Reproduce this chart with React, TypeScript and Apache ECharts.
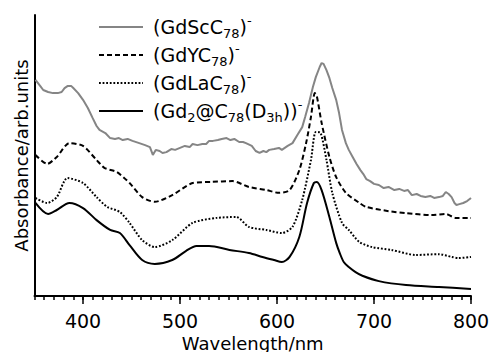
import { useEffect, useRef } from "react";
import * as echarts from "echarts";

const FONT = "'DejaVu Sans', 'Noto Sans', sans-serif";

// x-axis labelled ticks (nm)
const majorTicks = [400, 500, 600, 700, 800];

// (GdScC78)- spectrum
const gdScWl = [351, 356, 359, 364, 369, 374, 378, 381, 384, 388, 390, 395, 400, 405, 410, 414, 417, 423, 428, 433, 437, 441, 446, 451, 458, 464, 469, 472, 475, 479, 482, 486, 491, 495, 500, 505, 510, 513, 518, 523, 527, 530, 534, 539, 543, 548, 552, 556, 561, 565, 568, 574, 578, 582, 586, 589, 592, 597, 602, 605, 611, 616, 621, 626, 629, 633, 637, 640, 644, 646, 648, 651, 654, 657, 661, 664, 667, 671, 674, 678, 682, 686, 689, 692, 696, 700, 705, 710, 715, 721, 726, 731, 735, 739, 744, 748, 753, 758, 762, 767, 771, 774, 777, 780, 783, 785, 788, 792, 796, 800];
const gdScAbs = [0.769, 0.747, 0.733, 0.726, 0.722, 0.722, 0.726, 0.740, 0.747, 0.747, 0.740, 0.722, 0.698, 0.669, 0.633, 0.605, 0.591, 0.580, 0.562, 0.559, 0.562, 0.555, 0.559, 0.552, 0.544, 0.537, 0.530, 0.502, 0.520, 0.516, 0.509, 0.512, 0.523, 0.520, 0.527, 0.534, 0.530, 0.541, 0.537, 0.541, 0.541, 0.552, 0.552, 0.555, 0.559, 0.562, 0.555, 0.559, 0.548, 0.548, 0.544, 0.534, 0.516, 0.509, 0.516, 0.512, 0.520, 0.523, 0.527, 0.520, 0.534, 0.544, 0.573, 0.601, 0.637, 0.687, 0.744, 0.779, 0.815, 0.829, 0.826, 0.804, 0.776, 0.740, 0.698, 0.651, 0.591, 0.544, 0.520, 0.495, 0.470, 0.448, 0.434, 0.416, 0.409, 0.399, 0.395, 0.384, 0.388, 0.377, 0.381, 0.374, 0.377, 0.359, 0.363, 0.356, 0.352, 0.356, 0.349, 0.352, 0.356, 0.370, 0.363, 0.352, 0.331, 0.324, 0.327, 0.331, 0.338, 0.349];

// (GdYC78)- spectrum
const gdYWl = [351, 363, 373, 386, 400, 414, 422, 435, 448, 461, 474, 492, 513, 533, 554, 571, 589, 602, 613, 623, 630, 635, 639, 641, 646, 654, 661, 671, 685, 692, 715, 733, 759, 774, 784, 800];
const gdYAbs = [0.502, 0.470, 0.495, 0.544, 0.534, 0.484, 0.456, 0.441, 0.402, 0.352, 0.335, 0.359, 0.402, 0.406, 0.409, 0.388, 0.377, 0.367, 0.377, 0.448, 0.544, 0.637, 0.722, 0.712, 0.616, 0.495, 0.423, 0.367, 0.331, 0.317, 0.302, 0.295, 0.288, 0.292, 0.278, 0.278];

// (GdLaC78)- spectrum
const gdLaWl = [351, 363, 373, 384, 400, 414, 425, 438, 448, 461, 474, 492, 513, 538, 558, 571, 589, 605, 616, 626, 635, 640, 645, 651, 657, 667, 674, 685, 698, 718, 743, 767, 780, 787, 800];
const gdLaAbs = [0.349, 0.331, 0.352, 0.420, 0.402, 0.352, 0.317, 0.299, 0.260, 0.199, 0.174, 0.199, 0.260, 0.278, 0.281, 0.246, 0.235, 0.224, 0.246, 0.342, 0.484, 0.584, 0.580, 0.484, 0.367, 0.260, 0.235, 0.192, 0.174, 0.164, 0.146, 0.149, 0.139, 0.135, 0.139];

// (Gd2@C78(D3h))- spectrum
const gd2Wl = [351, 364, 373, 386, 400, 414, 428, 438, 448, 461, 474, 492, 506, 517, 530, 551, 571, 585, 597, 605, 613, 623, 631, 638, 641, 646, 654, 661, 665, 669, 674, 681, 688, 705, 733, 767, 800];
const gd2Abs = [0.331, 0.292, 0.306, 0.331, 0.313, 0.270, 0.235, 0.224, 0.181, 0.128, 0.114, 0.128, 0.160, 0.178, 0.178, 0.164, 0.153, 0.139, 0.128, 0.121, 0.139, 0.210, 0.331, 0.402, 0.406, 0.377, 0.281, 0.189, 0.150, 0.120, 0.103, 0.085, 0.072, 0.053, 0.039, 0.032, 0.025];

const seriesNames = ["(GdScC78)-", "(GdYC78)-", "(GdLaC78)-", "(Gd2@C78(D3h))-"];
const legendRich: Record<string, string> = {
  "(GdScC78)-": "(GdScC{sub|78}){sup|-}",
  "(GdYC78)-": "(GdYC{sub|78}){sup|-}",
  "(GdLaC78)-": "(GdLaC{sub|78}){sup|-}",
  "(Gd2@C78(D3h))-": "(Gd{sub|2}@C{sub|78}(D{sub|3h})){sup|-}",
};

const zip = (xs: number[], ys: number[]) => xs.map((x, i) => [x, ys[i]]);

export default function App() {
  const ref = useRef<HTMLDivElement>(null);

  useEffect(() => {
    if (!ref.current) return;
    const chart = echarts.init(ref.current, null, { renderer: "svg" });

    const lineSeries = (
      name: string,
      data: number[][],
      color: string,
      type: any,
      smooth: number
    ) => ({
      name,
      type: "line",
      xAxisIndex: 0,
      yAxisIndex: 0,
      data,
      symbol: "none",
      smooth,
      color,
      lineStyle: { color, width: 2, type },
    });

    chart.setOption({
      animation: false,
      backgroundColor: "#fff",
      grid: {
        left: 34.5,
        right: 21,
        top: 15,
        bottom: 56,
        containLabel: false,
        outerBoundsMode: "none",
      },
      legend: {
        orient: "vertical",
        left: 98,
        top: 14,
        padding: 0,
        itemGap: 2,
        itemWidth: 44,
        itemHeight: 14,
        data: seriesNames,
        itemStyle: { opacity: 0 },
        formatter: (n: string) => legendRich[n] ?? n,
        textStyle: {
          fontFamily: FONT,
          fontSize: 19,
          color: "#000",
          lineHeight: 26,
          padding: [0, 0, 0, 5],
          rich: {
            sub: { fontFamily: FONT, fontSize: 13, lineHeight: 13, color: "#000", verticalAlign: "bottom" },
            sup: { fontFamily: FONT, fontSize: 13, lineHeight: 13, color: "#000", verticalAlign: "top" },
          },
        },
      },
      xAxis: [
        {
          type: "value",
          min: 350,
          max: 800,
          interval: 10,
          axisLine: { show: true, onZero: false, lineStyle: { color: "#000", width: 2 } },
          axisTick: { show: true, length: 4, lineStyle: { color: "#000", width: 1.5 } },
          axisLabel: { show: false },
          splitLine: { show: false },
          name: "Wavelength/nm",
          nameLocation: "middle",
          nameGap: 38,
          nameTextStyle: { fontFamily: FONT, fontSize: 18, color: "#000" },
        },
        {
          type: "value",
          position: "bottom",
          min: 350,
          max: 800,
          axisLine: { show: false, onZero: false },
          axisTick: { show: true, customValues: majorTicks, length: 8, lineStyle: { color: "#000", width: 1.5 } },
          axisLabel: {
            show: true,
            customValues: majorTicks,
            margin: 15,
            fontFamily: FONT,
            fontSize: 19,
            color: "#000",
          },
          splitLine: { show: false },
        },
      ],
      yAxis: {
        type: "value",
        min: 0,
        max: 1,
        axisLine: { show: true, onZero: false, lineStyle: { color: "#000", width: 2 } },
        axisTick: { show: false },
        axisLabel: { show: false },
        splitLine: { show: false },
        name: "Absorbance/arb.units",
        nameLocation: "middle",
        nameGap: 4,
        nameTextStyle: { fontFamily: FONT, fontSize: 18, color: "#000" },
      },
      series: [
        lineSeries(seriesNames[0], zip(gdScWl, gdScAbs), "#858585", "solid", 0),
        lineSeries(seriesNames[1], zip(gdYWl, gdYAbs), "#000", [5, 3], 0.25),
        lineSeries(seriesNames[2], zip(gdLaWl, gdLaAbs), "#000", [1.8, 1.8], 0.25),
        lineSeries(seriesNames[3], zip(gd2Wl, gd2Abs), "#000", "solid", 0.3),
      ],
    });

    return () => chart.dispose();
  }, []);

  return (
    <div
      ref={ref}
      style={{ position: "fixed", left: 0, top: 0, width: 492, height: 352 }}
    />
  );
}
